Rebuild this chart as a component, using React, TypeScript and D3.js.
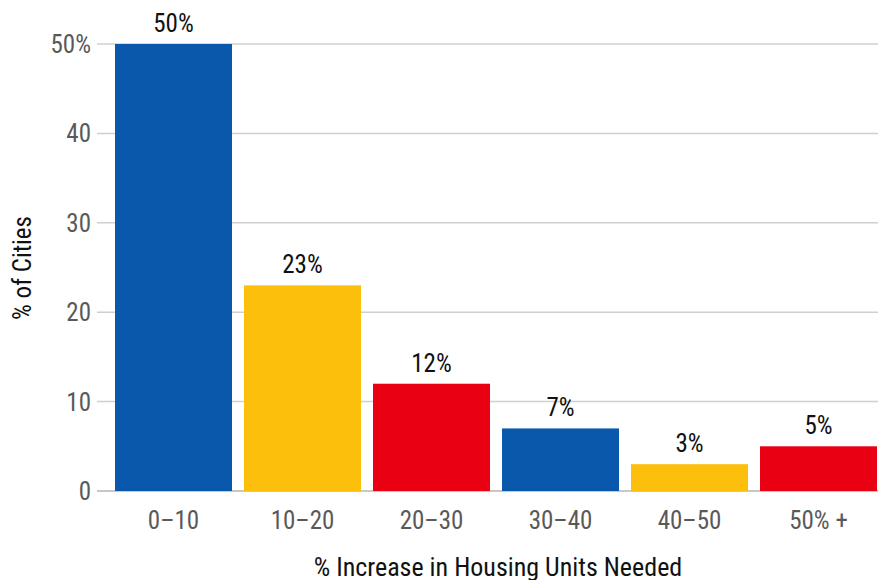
import React from "react";
import * as d3 from "d3";

const categories = ["0-10", "10-20", "20-30", "30-40", "40-50", "50% +"];
const values = [50, 23, 12, 7, 3, 5];
const barColors = ["#0A58AC", "#FBBF0C", "#E90012", "#0A58AC", "#FBBF0C", "#E90012"];
const yTicks = [0, 10, 20, 30, 40, 50];
const xTitle = "% Increase in Housing Units Needed";
const yTitle = "% of Cities";

const W = 882;
const H = 580;
const FONT = "'Roboto Condensed', Roboto, sans-serif";
const FS = 25;

export default function App() {
  const gridLeft = 97;
  const gridRight = 878;
  const y = d3.scaleLinear().domain([0, 50]).range([491, 44]);
  const step = 129;
  const pi = 12 / step;
  const po = 18 / step;
  const x = d3
    .scaleBand<string>()
    .domain(categories)
    .range([gridLeft, gridLeft + step * (categories.length - pi + 2 * po)])
    .paddingInner(pi)
    .paddingOuter(po);

  return (
    <svg width={W} height={H} style={{ display: "block", position: "absolute", left: 0, top: 0 }}>
      <rect width={W} height={H} fill="#fff" />
      {yTicks.map((t) => (
        <g key={t}>
          <line x1={gridLeft} x2={gridRight} y1={y(t)} y2={y(t)} stroke={t === 0 ? "#c8c8c8" : "#d0d0d0"} strokeWidth={t === 0 ? 2 : 1.5} />
          <text x={91} y={y(t)} dy="0.36em" textAnchor="end" fontFamily={FONT} fontSize={FS} fill="#595959">
            {t === 50 ? "50%" : String(t)}
          </text>
        </g>
      ))}
      {categories.map((c, i) => {
        const bx = x(c) as number;
        const bw = x.bandwidth();
        const cx = bx + bw / 2;
        return (
          <g key={c}>
            <rect x={bx} y={y(values[i])} width={bw} height={y(0) - y(values[i])} fill={barColors[i]} />
            <text x={cx} y={y(values[i]) - 12} textAnchor="middle" fontFamily={FONT} fontSize={FS} fill="#111">
              {values[i] + "%"}
            </text>
            <text x={cx} y={529} textAnchor="middle" fontFamily={FONT} fontSize={FS} fill="#595959">
              {c.replace("-", "\u2013")}
            </text>
          </g>
        );
      })}
      <text x={498} y={576} textAnchor="middle" fontFamily={FONT} fontSize={26} fill="#111">
        {xTitle}
      </text>
      <text transform={`translate(31,268) rotate(-90)`} textAnchor="middle" fontFamily={FONT} fontSize={FS} fill="#111">
        {yTitle}
      </text>
    </svg>
  );
}
